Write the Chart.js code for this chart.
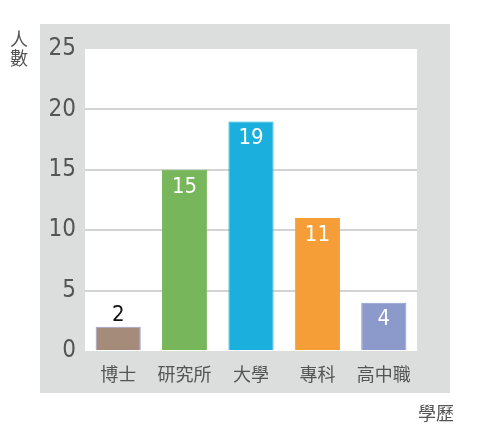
<!DOCTYPE html>
<html>
<head>
<meta charset="utf-8">
<script src="https://cdn.jsdelivr.net/npm/chart.js@4.4.1/dist/chart.umd.min.js"></script>
<style>
  html, body { margin: 0; padding: 0; background: #fff; }
  #wrap { width: 477px; height: 430px; position: relative; }
</style>
</head>
<body>
<div id="wrap"><canvas id="barChart"></canvas></div>
<script>
// education level counts
const categories = ['博士', '研究所', '大學', '專科', '高中職'];
const counts = [2, 15, 19, 11, 4];
const barColors = ['#A58B79', '#77B65A', '#1BAFDE', '#F59E38', '#8C9ACB'];
const borderColors = ['#9AA0D6', '#77B65A', '#1BAFDE', '#F59E38', '#8C9ACB'];
const yTicks = [0, 5, 10, 15, 20, 25];
const yTitle = ['人', '數'];
const xTitle = '學歷';

const numFont = "'Liberation Sans Narrow', 'DejaVu Sans Condensed', sans-serif";
const cjkFont = "'Noto Sans CJK TC', sans-serif";

// gray panel behind the plot, white plot area
const panelPlugin = {
  id: 'panel',
  beforeDraw(chart) {
    const { ctx, chartArea: a } = chart;
    ctx.save();
    ctx.fillStyle = '#DCDDDD';
    ctx.fillRect(a.left - 45, a.top - 25, (a.right - a.left) + 78, (a.bottom - a.top) + 67);
    ctx.fillStyle = '#FFFFFF';
    ctx.fillRect(a.left, a.top, a.right - a.left, a.bottom - a.top);
    ctx.restore();
  }
};

// value labels and axis titles
const labelPlugin = {
  id: 'labels',
  afterDatasetsDraw(chart) {
    const { ctx, chartArea: a } = chart;
    const meta = chart.getDatasetMeta(0);
    ctx.save();
    ctx.font = '22px ' + numFont;
    ctx.textAlign = 'center';
    meta.data.forEach((bar, i) => {
      const v = counts[i];
      if (bar.base - bar.y < 40) {
        ctx.fillStyle = '#111';
        ctx.textBaseline = 'bottom';
        ctx.fillText(String(v), bar.x, bar.y - 1);
      } else {
        ctx.fillStyle = '#FFFFFF';
        ctx.textBaseline = 'top';
        ctx.fillText(String(v), bar.x, bar.y + 6);
      }
    });
    ctx.fillStyle = '#555';
    ctx.font = '18px ' + cjkFont;
    ctx.textBaseline = 'middle';
    yTitle.forEach((ch, i) => ctx.fillText(ch, a.left - 66, a.top - 10 + i * 19));
    ctx.fillText(xTitle, a.right + 19, a.bottom + 62);
    ctx.restore();
  }
};

const ctx = document.getElementById('barChart').getContext('2d');
new Chart(ctx, {
  type: 'bar',
  data: {
    labels: categories,
    datasets: [{
      data: counts,
      backgroundColor: barColors,
      borderColor: borderColors,
      borderWidth: 1,
      categoryPercentage: 1,
      barPercentage: 0.68
    }]
  },
  options: {
    responsive: true,
    maintainAspectRatio: false,
    animation: false,
    layout: { padding: { left: 40, right: 60, top: 49, bottom: 37 } },
    plugins: {
      legend: { display: false },
      tooltip: { enabled: false }
    },
    scales: {
      x: {
        grid: { display: false },
        border: { display: false },
        ticks: {
          color: '#555',
          font: { family: cjkFont, size: 18 },
          padding: 4
        },
        afterFit(scale) { scale.height = 42; }
      },
      y: {
        min: 0,
        max: 25,
        afterBuildTicks(scale) { scale.ticks = yTicks.map(v => ({ value: v })); },
        grid: {
          color: ctx => (ctx.tick && (ctx.tick.value === 0 || ctx.tick.value === 25)) ? 'rgba(0,0,0,0)' : '#D3D3D3',
          lineWidth: 2,
          drawTicks: false
        },
        border: { display: false },
        ticks: {
          color: '#555',
          font: { family: numFont, size: 24 },
          padding: 9
        },
        afterFit(scale) { scale.width = 45; }
      }
    }
  },
  plugins: [panelPlugin, labelPlugin]
});
</script>
</body>
</html>
